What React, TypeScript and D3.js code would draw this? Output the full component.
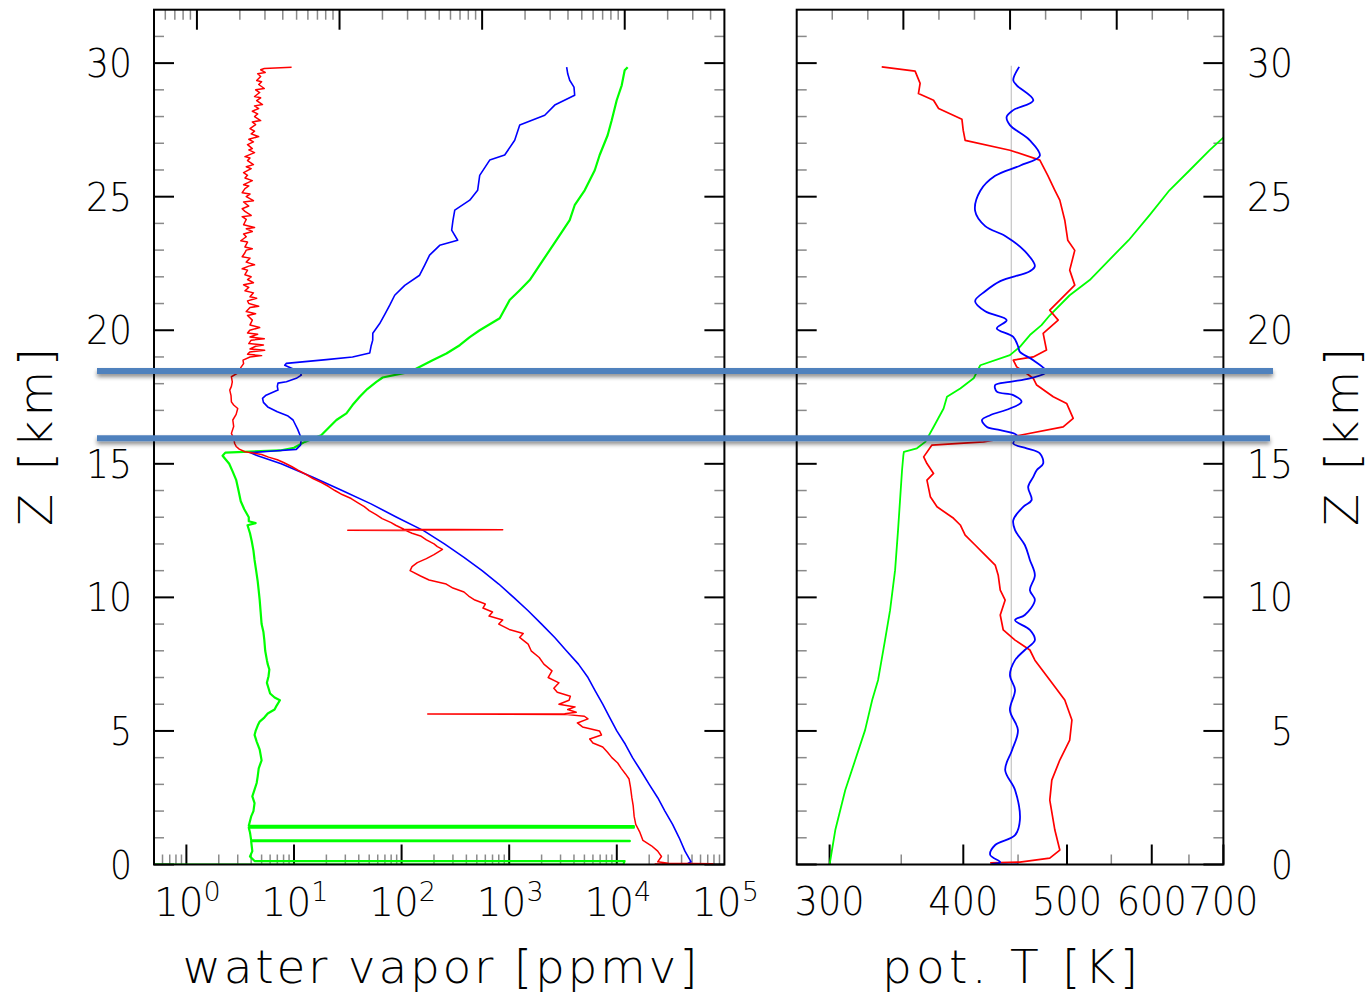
import React from "react";
import * as d3 from "d3";

type P = [number, number]; // [altitude km, value]

// ---------------- data (left panel: water vapour, ppmv) ----------------
const h2oMeasured: P[] = [
  [0.02, 22500], [0.03, 78000], [0.05, 30000], [0.1, 24000], [0.3, 26000], [0.5, 24000], [0.7, 21000], [0.9, 17500],
  [1.2, 16400], [1.5, 15000], [1.8, 14500], [2.2, 14200], [2.5, 13800], [2.9, 13400], [3.2, 13000], [3.4, 12000],
  [3.6, 11000], [3.8, 10200], [4.0, 9000], [4.2, 8200], [4.4, 7400], [4.55, 6000], [4.7, 5600], [4.85, 7200],
  [5.0, 6900], [5.15, 4800], [5.3, 4300], [5.45, 5400], [5.55, 5000], [5.62, 3300], [5.63, 175], [5.64, 3280],
  [5.7, 4200], [5.8, 3500], [5.9, 4100], [6.0, 2900], [6.15, 3600], [6.3, 3700], [6.45, 2800], [6.6, 2600],
  [6.8, 2900], [7.0, 2300], [7.25, 2500], [7.5, 2100], [7.75, 1900], [8.0, 1600], [8.25, 1500], [8.5, 1250],
  [8.65, 1350], [8.8, 1000], [9.0, 800], [9.15, 870], [9.3, 650], [9.45, 700], [9.6, 570], [9.75, 600],
  [9.9, 480], [10.05, 420], [10.2, 380], [10.35, 300], [10.5, 260], [10.65, 180], [10.8, 150], [11.0, 120],
  [11.15, 125], [11.3, 140], [11.45, 170], [11.6, 200], [11.8, 240], [11.9, 215], [12.0, 200], [12.15, 170],
  [12.3, 150], [12.4, 125], [12.5, 110], [12.51, 31.6], [12.53, 870], [12.55, 105], [12.7, 88], [12.8, 80],
  [12.95, 66], [13.1, 58], [13.25, 50], [13.4, 45], [13.55, 39], [13.7, 34], [13.85, 28], [14.0, 24],
  [14.15, 21], [14.3, 18], [14.45, 15], [14.6, 13], [14.75, 11], [14.9, 9.5], [15.05, 8.0], [15.15, 7],
  [15.25, 5.8], [15.35, 5], [15.45, 3.5], [15.55, 3.1], [15.65, 2.9], [15.76, 2.81], [15.95, 2.75], [16.14, 2.62],
  [16.4, 2.75], [16.64, 2.7], [16.85, 2.9], [17.07, 3.0], [17.2, 2.75], [17.32, 2.62], [17.55, 2.6], [17.76, 2.53],
  [17.9, 2.62], [18.07, 2.67], [18.26, 2.62], [18.44, 3.13], [18.6, 3.2], [18.75, 3.4], [18.88, 3.36], [19.0, 3.9],
  [19.05, 5.0], [19.1, 3.7], [19.19, 3.88], [19.25, 5.34], [19.3, 3.9], [19.4, 4.4], [19.45, 5.2], [19.5, 3.8],
  [19.63, 4.0], [19.68, 5.3], [19.75, 3.9], [19.85, 4.6], [19.9, 3.7], [20.0, 3.88], [20.1, 4.8], [20.2, 3.9],
  [20.38, 4.1], [20.55, 3.7], [20.62, 4.4], [20.7, 3.6], [20.85, 3.9], [20.9, 4.7], [21.0, 3.8], [21.1, 3.7],
  [21.2, 4.5], [21.25, 3.9], [21.4, 4.2], [21.48, 3.5], [21.6, 3.8], [21.7, 3.4], [21.78, 4.2], [21.9, 3.7],
  [22.0, 4.0], [22.08, 3.5], [22.25, 3.7], [22.3, 3.3], [22.4, 3.8], [22.45, 4.3], [22.55, 3.6], [22.7, 3.9],
  [22.75, 3.3], [22.9, 3.5], [23.0, 3.6], [23.05, 4.1], [23.12, 3.5], [23.3, 3.7], [23.35, 3.2], [23.5, 3.6],
  [23.6, 3.4], [23.7, 4.1], [23.8, 3.6], [23.85, 4.3], [23.95, 3.4], [24.15, 3.6], [24.25, 3.3], [24.3, 4.0],
  [24.45, 3.5], [24.55, 3.3], [24.65, 3.8], [24.8, 3.4], [24.85, 4.2], [25.0, 3.6], [25.1, 3.9], [25.15, 3.3],
  [25.3, 3.5], [25.4, 3.8], [25.45, 3.4], [25.6, 4.1], [25.7, 3.5], [25.8, 3.7], [25.9, 3.4], [26.05, 4.0],
  [26.12, 3.6], [26.2, 4.2], [26.35, 3.7], [26.45, 3.9], [26.5, 3.5], [26.65, 4.3], [26.75, 3.8], [26.8, 4.1],
  [26.95, 3.7], [27.05, 4.2], [27.15, 3.8], [27.25, 4.7], [27.35, 4.0], [27.45, 4.3], [27.55, 3.9], [27.7, 4.4],
  [27.8, 4.1], [27.85, 4.9], [28.0, 4.3], [28.1, 4.6], [28.2, 4.1], [28.3, 4.7], [28.4, 4.3], [28.45, 5.1],
  [28.6, 4.5], [28.7, 4.9], [28.75, 4.3], [28.9, 4.8], [29.0, 4.4], [29.05, 5.3], [29.2, 4.7], [29.3, 5.0],
  [29.35, 4.5], [29.5, 4.9], [29.6, 4.6], [29.65, 5.4], [29.75, 4.9], [29.8, 5.3], [29.85, 9.5],
];

const h2oSaturation: P[] = [
  [0.0, 52000], [0.02, 45000], [0.1, 49000], [0.5, 43000], [1.0, 38000], [1.5, 33000], [2.0, 28000], [2.5, 24000],
  [3.0, 20000], [3.5, 16800], [4.0, 14000], [4.5, 12000], [5.0, 10000], [5.5, 8600], [6.0, 7400], [6.5, 6300],
  [7.0, 5400], [7.5, 4400], [8.0, 3400], [8.5, 2650], [9.0, 2000], [9.5, 1500], [10.0, 1100], [10.5, 800],
  [11.0, 560], [11.5, 380], [12.0, 250], [12.5, 160], [13.0, 90], [13.5, 52], [14.0, 28], [14.5, 15],
  [15.0, 7.6], [15.3, 4.6], [15.42, 3.9], [15.47, 6], [15.54, 10.5], [15.7, 11.5], [15.95, 11.7], [16.3, 10.8],
  [16.64, 9.8], [16.8, 8.7], [16.95, 7], [17.13, 5.7], [17.3, 5.2], [17.45, 5.1], [17.57, 5.5], [17.76, 7.1],
  [17.9, 7.0], [18.02, 7.1], [18.07, 8.5], [18.2, 10.5], [18.32, 11.7], [18.44, 11.3], [18.58, 9.5], [18.69, 8.2],
  [18.76, 8.5], [18.9, 20], [19.0, 35], [19.15, 50.6], [19.4, 52], [19.63, 53.9], [19.89, 54], [20.25, 62.6],
  [20.6, 70], [20.94, 77.6], [21.31, 86.3], [21.68, 107], [22.06, 147], [22.44, 164], [22.81, 182], [23.18, 226],
  [23.37, 332], [23.75, 292], [24.1, 300], [24.5, 312], [24.87, 430], [25.24, 509], [25.8, 532], [26.37, 659],
  [26.56, 908], [27.11, 1125], [27.68, 1253], [28.05, 2140], [28.43, 2650], [28.8, 4060], [29.1, 4000], [29.36, 3650],
  [29.6, 3500], [29.85, 3420],
];

const h2oModel: P[] = [
  [0.0, 0.5], [0.0, 11500], [0.13, 11800], [0.13, 4.3], [0.3, 3.9], [0.5, 4.1], [0.87, 4.0], [0.87, 13200],
  [0.89, 13200], [0.9, 4.0], [1.2, 3.9], [1.38, 3.8], [1.38, 14400], [1.44, 14400], [1.45, 3.8], [1.8, 4.0],
  [2.0, 4.2], [2.3, 4.3], [2.55, 4.1], [2.8, 4.3], [3.05, 4.5], [3.3, 4.6], [3.6, 4.7], [3.9, 5.0], [4.1, 4.9],
  [4.3, 4.8], [4.6, 4.5], [4.85, 4.3], [5.0, 4.4], [5.2, 4.6], [5.35, 4.8], [5.5, 5.3], [5.65, 5.7], [5.8, 6.6],
  [5.95, 6.9], [6.15, 7.4], [6.25, 6.6], [6.4, 6.0], [6.6, 5.8], [6.8, 5.6], [7.05, 5.8], [7.3, 5.9], [7.5, 5.7],
  [7.65, 5.6], [8.0, 5.4], [8.4, 5.3], [8.7, 5.2], [9.0, 5.0], [9.45, 4.9], [9.9, 4.8], [10.25, 4.7], [10.6, 4.6],
  [11.0, 4.45], [11.4, 4.3], [11.75, 4.2], [12.1, 4.05], [12.4, 3.9], [12.7, 3.7], [12.78, 4.4], [12.85, 3.8],
  [13.0, 3.8], [13.3, 3.45], [13.6, 3.2], [14.0, 3.05], [14.4, 2.9], [14.7, 2.7], [15.0, 2.5], [15.3, 2.17],
  [15.42, 2.3], [15.5, 7.4], [15.6, 10], [15.82, 12.6], [16.07, 17.9], [16.35, 21], [16.64, 24.8], [16.89, 30.7],
  [17.2, 35], [17.51, 40.8], [17.8, 48], [18.07, 58.3], [18.23, 66.7], [18.44, 119], [18.88, 194], [19.13, 261],
  [19.44, 347], [19.74, 430], [20.0, 532], [20.45, 817], [21.13, 1010], [21.5, 1253], [21.88, 1552], [22.44, 1920],
  [23.0, 2380], [23.56, 2950], [24.12, 3650], [24.68, 4060], [25.24, 5030], [25.99, 6240], [26.56, 6930], [27.3, 8220],
  [27.86, 8970], [28.61, 9980], [29.17, 11110], [29.73, 11840], [29.85, 12620],
];

// ---------------- data (right panel: potential temperature, K) ----------------
const thetaGreen: P[] = [
  [0, 300], [1.29, 303.7], [2.79, 310.3], [3.91, 317], [5.03, 323.8], [6.16, 328.8], [6.91, 333], [8.4, 338],
  [9.52, 341.7], [11.02, 345.4], [12.52, 347.6], [13.64, 349.1], [14.76, 350.6], [15.32, 351.6], [15.45, 352],
  [15.58, 362], [15.82, 368.6], [16.38, 375.2], [17.07, 383.4], [17.51, 386.2], [17.82, 397.4], [18.2, 409],
  [18.69, 414.9], [19.07, 442.2], [19.38, 451.8], [19.82, 461.6], [20.19, 473.3], [20.56, 481.8], [21.31, 502.9],
  [21.88, 525], [22.62, 547.1], [23.37, 570.9], [24.31, 597.2], [25.24, 623.3], [25.99, 651], [26.74, 679.6],
  [27.19, 699], [27.5, 715],
];

const thetaRed: P[] = [
  [0.06, 423.8], [0.09, 451.8], [0.24, 481.8], [0.54, 492.3], [1.29, 487.1], [2.41, 481.8], [3.16, 483.9],
  [3.91, 492.3], [4.66, 502.9], [5.41, 505.3], [6.16, 497.6], [6.91, 481.8], [7.65, 466.6], [8.03, 461.6],
  [8.4, 447.1], [8.78, 435.9], [9.34, 433.1], [9.9, 437.7], [10.27, 433.1], [10.83, 431.2], [11.21, 428.4],
  [11.58, 419.3], [11.96, 410.3], [12.33, 401.6], [12.71, 397.4], [12.96, 391.7], [13.39, 378], [13.77, 372.6],
  [14.39, 369.9], [14.64, 375.2], [15.01, 369.9], [15.26, 367.3], [15.7, 373.9], [15.82, 417.9], [16.07, 451.8],
  [16.38, 495.9], [16.7, 506.7], [17.26, 499.6], [17.51, 485.4], [17.95, 468.4], [18.2, 465], [18.38, 458.4],
  [18.63, 448.7], [18.88, 445.4], [19.0, 465], [19.26, 478.4], [19.88, 475], [20.38, 490.6], [20.75, 481.8],
  [21.13, 492.3], [21.69, 508.4], [22.25, 502.9], [22.99, 508.4], [23.37, 500.8], [24.12, 497.6], [24.87, 492.3],
  [25.24, 487.1], [25.8, 479.7], [26.37, 471.6], [26.74, 442.2], [27.11, 401.6], [27.49, 399.9], [27.9, 398.8],
  [28.3, 379.3], [28.61, 375.2], [28.86, 363.2], [29.24, 364.5], [29.7, 360.6], [29.86, 335.6],
];

const thetaBlue: P[] = [
  [0.0, 450], [0.02, 425], [0.09, 433.1], [0.36, 423.8], [0.73, 428.4], [1.1, 447.1], [1.67, 451.8], [2.79, 447.1],
  [3.54, 437.7], [4.28, 444.2], [5.03, 449.9], [5.78, 442.2], [6.53, 447.1], [7.09, 442.2], [7.65, 447.1],
  [8.03, 456.6], [8.4, 466.6], [8.78, 461.6], [9.15, 447.1], [9.34, 456.6], [9.9, 466.6], [10.27, 461.6],
  [10.83, 466.6], [11.4, 461.6], [11.96, 456.6], [12.52, 447.1], [12.89, 445.4], [13.39, 455], [13.64, 463.3],
  [14.14, 459.9], [14.51, 465], [14.76, 468.4], [15.01, 475], [15.39, 471.6], [15.58, 458.4], [15.76, 445.4],
  [16.07, 448.7], [16.26, 433.1], [16.38, 420.9], [16.64, 416.4], [16.82, 423.8], [17.07, 442.2], [17.32, 453.4],
  [17.57, 445.4], [17.7, 429.9], [17.95, 428.4], [18.07, 442.2], [18.2, 461.6], [18.44, 478.4], [18.88, 465],
  [19.19, 451.8], [19.38, 450.2], [19.75, 445.4], [20.07, 429.9], [20.38, 439.1], [20.71, 419.3], [21.09, 410.3],
  [21.46, 419.3], [21.84, 433.1], [22.21, 461.6], [22.4, 466.6], [22.96, 456.6], [23.53, 437.7], [23.9, 419.3],
  [24.47, 410.3], [25.22, 414.9], [25.78, 428.4], [26.16, 451.8], [26.53, 471.6], [27.11, 461.6], [27.68, 442.2],
  [27.99, 439.1], [28.24, 445.4], [28.61, 465], [29.17, 448.7], [29.36, 445.4], [29.86, 451.1],
];

const thetaRefValue = 443.5; // grey reference line (K)
const thetaRefTop = 29.9;
const tropopauseBounds = [18.47, 15.96]; // km
const altTicks = [0, 5, 10, 15, 20, 25, 30];
const wvExponents = [0, 1, 2, 3, 4, 5];
const thetaMajor = [300, 400, 500, 600, 700];
const thetaMinor = [350, 450, 550, 650];
const titleWV = "water vapor [ppmv]";
const titleTheta = "pot. T [K]";
const titleZ = "Z [km]";

// ---------------- layout ----------------
const TOP = 9.7;
const BOT = 864.5;
const L0 = 154, L1 = 724.4, R0 = 796.7, R1 = 1223.4;
const FONT = "'DejaVu Sans', 'Noto Sans', sans-serif";
const MAJ = 20, MIN = 10;
const minorColor = "#8a8a8a";

function logTicks(lo: number, hi: number) {
  const out: { v: number; major: boolean }[] = [];
  for (let e = Math.floor(Math.log10(lo)); e <= Math.ceil(Math.log10(hi)); e++) {
    for (let m = 1; m <= 9; m++) {
      const v = m * Math.pow(10, e);
      if (v > lo * 1.0001 && v < hi * 0.9999) out.push({ v, major: m === 1 });
    }
  }
  return out;
}

export default function App() {
  const y = d3.scaleLinear().domain([0, 32]).range([BOT, TOP]);
  const xL = d3.scaleLog().domain([0.5, 1e5]).range([L0, L1]);
  const xLtop = d3.scaleLog().domain([0.5, 5000]).range([L0, L1]);
  const xR = d3.scaleLog().domain([279.5, 700]).range([R0, R1]);
  const xRtop = d3.scaleLinear().domain([0, 12]).range([R0, R1]);

  const lineL = d3.line<P>().x((d) => xL(d[1])).y((d) => y(d[0]));
  const lineR = d3.line<P>().x((d) => xR(d[1])).y((d) => y(d[0]));
  const lineRsmooth = d3.line<P>().x((d) => xR(d[1])).y((d) => y(d[0])).curve(d3.curveCatmullRom.alpha(0.5));

  const yMinor = d3.range(1, 32).filter((k) => k % 5 !== 0);
  const yMajor = altTicks;

  const tickLine = (x1: number, y1: number, x2: number, y2: number, major: boolean, key: string) => (
    <line key={key} x1={x1} y1={y1} x2={x2} y2={y2} stroke={major ? "#000" : minorColor} strokeWidth={major ? 2 : 1.5} />
  );

  const yTicksFor = (x0: number, x1: number, pfx: string) => [
    ...yMinor.map((k) => tickLine(x0, y(k), x0 + MIN, y(k), false, `${pfx}l${k}`)),
    ...yMinor.map((k) => tickLine(x1, y(k), x1 - MIN, y(k), false, `${pfx}r${k}`)),
    ...yMajor.map((k) => tickLine(x0, y(k), x0 + MAJ, y(k), true, `${pfx}L${k}`)),
    ...yMajor.map((k) => tickLine(x1, y(k), x1 - MAJ, y(k), true, `${pfx}R${k}`)),
  ];

  const lBottom = logTicks(0.5, 1e5);
  const lTop = logTicks(0.5, 5000);
  const rTop = d3.range(1, 12);

  return (
    <div style={{ position: "absolute", left: 0, top: 0 }}>
      <svg width={1370} height={996} style={{ display: "block", background: "#fff" }}>
        <defs>
          <clipPath id="clipL">
            <rect x={L0} y={TOP} width={L1 - L0} height={BOT - TOP} />
          </clipPath>
          <clipPath id="clipR">
            <rect x={R0} y={TOP} width={R1 - R0} height={BOT - TOP} />
          </clipPath>
          <filter id="shadow" x="-5%" y="-300%" width="110%" height="800%">
            <feDropShadow dx="0" dy="3" stdDeviation="2.2" floodColor="#000" floodOpacity="0.45" />
          </filter>
        </defs>

        {/* ticks left panel */}
        <g>
          {lBottom.map((t, i) => tickLine(xL(t.v), BOT, xL(t.v), BOT - (t.major ? MAJ : MIN), t.major, `lb${i}`))}
          {lTop.map((t, i) => tickLine(xLtop(t.v), TOP, xLtop(t.v), TOP + (t.major ? MAJ : MIN), t.major, `lt${i}`))}
          {yTicksFor(L0, L1, "yl")}
        </g>
        {/* ticks right panel */}
        <g>
          {thetaMajor.map((v) => tickLine(xR(v), BOT, xR(v), BOT - MAJ, true, `rb${v}`))}
          {thetaMinor.map((v) => tickLine(xR(v), BOT, xR(v), BOT - MIN, false, `rbm${v}`))}
          {rTop.map((v) => tickLine(xRtop(v), TOP, xRtop(v), TOP + (v % 3 === 0 ? MAJ : MIN), v % 3 === 0, `rt${v}`))}
          {yTicksFor(R0, R1, "yr")}
        </g>

        {/* left panel data */}
        <g clipPath="url(#clipL)" fill="none" strokeLinejoin="round">
          <path d={lineL(h2oModel) || ""} stroke="#00ff00" strokeWidth={2.2} />
          <path d={lineL(h2oSaturation) || ""} stroke="#0000ff" strokeWidth={1.6} />
          <path d={lineL(h2oMeasured) || ""} stroke="#ff0000" strokeWidth={1.5} />
        </g>

        {/* right panel data */}
        <g clipPath="url(#clipR)" fill="none" strokeLinejoin="round">
          <line x1={xR(thetaRefValue)} x2={xR(thetaRefValue)} y1={y(0)} y2={y(thetaRefTop)} stroke="#c4c4c4" strokeWidth={1.2} />
          <path d={lineR(thetaGreen) || ""} stroke="#00ff00" strokeWidth={1.8} />
          <path d={lineR(thetaRed) || ""} stroke="#ff0000" strokeWidth={1.7} />
          <path d={lineRsmooth(thetaBlue) || ""} stroke="#0000ff" strokeWidth={1.8} />
        </g>

        {/* frames */}
        <rect x={L0} y={TOP} width={L1 - L0} height={BOT - TOP} fill="none" stroke="#000" strokeWidth={2} />
        <rect x={R0} y={TOP} width={R1 - R0} height={BOT - TOP} fill="none" stroke="#000" strokeWidth={2} />

        {/* tick labels */}
        <g fontFamily={FONT} fontWeight={200} fontSize={39} fill="#000">
          {altTicks.map((k) => (
            <text key={`yl${k}`} x={132} y={y(k) + 14} textAnchor="end" textLength={k >= 10 ? 46 : 22} lengthAdjust="spacingAndGlyphs">
              {k}
            </text>
          ))}
          {altTicks.map((k) => (
            <text key={`yr${k}`} x={1293} y={y(k) + 14} textAnchor="end" textLength={k >= 10 ? 46 : 22} lengthAdjust="spacingAndGlyphs">
              {k}
            </text>
          ))}
          {wvExponents.map((e) => (
            <text key={`wx${e}`} x={xL(Math.pow(10, e)) + 1} y={916} textAnchor="middle">
              <tspan>10</tspan>
              <tspan dy={-15} fontSize={27}>{e}</tspan>
            </text>
          ))}
          {thetaMajor.map((v) => (
            <text key={`tx${v}`} x={xR(v)} y={915} textAnchor="middle" textLength={70} lengthAdjust="spacingAndGlyphs">
              {v}
            </text>
          ))}
        </g>

        {/* axis titles */}
        <g fontFamily={FONT} fontWeight={200} fontSize={47} fill="#000">
          <text x={440} y={983} textAnchor="middle" textLength={515} lengthAdjust="spacing">{titleWV}</text>
          <text x={1010} y={983} textAnchor="middle" textLength={256} lengthAdjust="spacing">{titleTheta}</text>
          <text transform="translate(52,437) rotate(-90)" textAnchor="middle" textLength={178} lengthAdjust="spacing">{titleZ}</text>
          <text transform="translate(1358,437) rotate(-90)" textAnchor="middle" textLength={178} lengthAdjust="spacing">{titleZ}</text>
        </g>

        {/* tropopause layer markers */}
        <g filter="url(#shadow)">
          {tropopauseBounds.map((k, i) => (
            <line key={`tb${i}`} x1={97} x2={i === 0 ? 1273 : 1270} y1={y(k)} y2={y(k)} stroke="#4f81bd" strokeWidth={6} />
          ))}
        </g>
      </svg>
    </div>
  );
}
